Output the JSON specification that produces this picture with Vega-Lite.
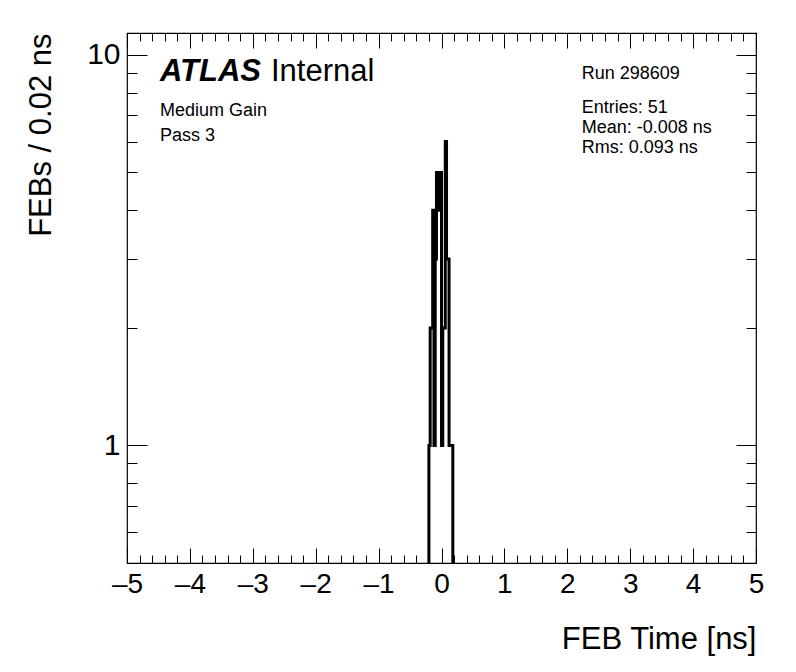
{
  "$schema": "https://vega.github.io/schema/vega-lite/v6.json",
  "width": 629,
  "height": 530,
  "autosize": {"type": "none"},
  "padding": {"left": 127, "top": 33, "right": 40, "bottom": 109},
  "background": "white",
  "config": {
    "view": {"stroke": "black", "strokeWidth": 1.2},
    "font": "Liberation Sans",
    "axis": {
      "domain": false,
      "grid": false,
      "tickColor": "black",
      "tickWidth": 1,
      "labelFont": "Liberation Sans",
      "labelFontSize": 28,
      "labelColor": "black",
      "labelOverlap": false,
      "labelFlush": false,
      "titleFont": "Liberation Sans",
      "titleFontSize": 31,
      "titleFontWeight": "normal",
      "titleColor": "black"
    }
  },
  "datasets": {
    "feb": [
      {"t": -0.22, "n": 0},
      {"t": -0.2, "n": 1},
      {"t": -0.18, "n": 2},
      {"t": -0.16, "n": 2},
      {"t": -0.14, "n": 4},
      {"t": -0.12, "n": 1},
      {"t": -0.1, "n": 3},
      {"t": -0.08, "n": 5},
      {"t": -0.06, "n": 5},
      {"t": -0.04, "n": 4},
      {"t": -0.02, "n": 5},
      {"t": 0, "n": 1},
      {"t": 0.02, "n": 2},
      {"t": 0.04, "n": 2},
      {"t": 0.06, "n": 6},
      {"t": 0.08, "n": 3},
      {"t": 0.1, "n": 3},
      {"t": 0.12, "n": 1},
      {"t": 0.14, "n": 1},
      {"t": 0.16, "n": 1},
      {"t": 0.18, "n": 0}
    ]
  },
  "resolve": {"axis": {"x": "independent", "y": "independent"}},
  "layer": [
    {
      "data": {"name": "feb"},
      "mark": {"type": "line", "interpolate": "step-after", "color": "black", "strokeWidth": 3, "clip": true, "invalid": "show", "strokeJoin": "miter", "strokeCap": "butt"},
      "encoding": {
        "x": {
          "field": "t", "type": "quantitative",
          "scale": {"domain": [-5, 5], "nice": false, "zero": false},
          "axis": {
            "orient": "bottom",
            "values": [-5,-4.8,-4.6,-4.4,-4.2,-4,-3.8,-3.6,-3.4,-3.2,-3,-2.8,-2.6,-2.4,-2.2,-2,-1.8,-1.6,-1.4,-1.2,-1,-0.8,-0.6,-0.4,-0.2,0,0.2,0.4,0.6,0.8,1,1.2,1.4,1.6,1.8,2,2.2,2.4,2.6,2.8,3,3.2,3.4,3.6,3.8,4,4.2,4.4,4.6,4.8,5],
            "tickSize": {"condition": {"test": "abs(datum.value - round(datum.value)) < 0.000001", "value": -15}, "value": -8},
            "labelExpr": "abs(datum.value - round(datum.value)) < 0.000001 ? (datum.value < 0 ? '\u2013' + abs(round(datum.value)) : '' + round(datum.value)) : ''",
            "labelPadding": 22,
            "title": "FEB Time [ns]",
            "titleX": 629,
            "titleY": 85,
            "titleAlign": "right",
            "titleBaseline": "alphabetic"
          }
        },
        "y": {
          "field": "n", "type": "quantitative",
          "scale": {"type": "log", "domain": [0.5, 11.38], "nice": false, "clamp": true},
          "axis": {
            "orient": "left",
            "values": [0.6,0.7,0.8,0.9,1,2,3,4,5,6,7,8,9,10],
            "tickSize": {"condition": {"test": "datum.value == 1 || datum.value == 10", "value": -20}, "value": -10},
            "labelExpr": "(datum.value == 1 || datum.value == 10) ? '' + datum.value : ''",
            "labelPadding": 27,
            "labelFontSize": 30,
            "title": "FEBs / 0.02 ns",
            "titleX": -77,
            "titleY": 0,
            "titleAngle": -90,
            "titleAlign": "right",
            "titleBaseline": "alphabetic"
          }
        }
      }
    },
    {
      "data": {"name": "feb"},
      "mark": {"type": "line", "interpolate": "step-after", "opacity": 0, "invalid": "show", "clip": true},
      "encoding": {
        "x": {
          "field": "t", "type": "quantitative",
          "axis": {
            "orient": "top",
            "values": [-5,-4.8,-4.6,-4.4,-4.2,-4,-3.8,-3.6,-3.4,-3.2,-3,-2.8,-2.6,-2.4,-2.2,-2,-1.8,-1.6,-1.4,-1.2,-1,-0.8,-0.6,-0.4,-0.2,0,0.2,0.4,0.6,0.8,1,1.2,1.4,1.6,1.8,2,2.2,2.4,2.6,2.8,3,3.2,3.4,3.6,3.8,4,4.2,4.4,4.6,4.8,5],
            "tickSize": {"condition": {"test": "abs(datum.value - round(datum.value)) < 0.000001", "value": -15}, "value": -8},
            "labels": false,
            "title": null
          }
        },
        "y": {
          "field": "n", "type": "quantitative",
          "axis": {
            "orient": "right",
            "values": [0.6,0.7,0.8,0.9,1,2,3,4,5,6,7,8,9,10],
            "tickSize": {"condition": {"test": "datum.value == 1 || datum.value == 10", "value": -20}, "value": -10},
            "labels": false,
            "title": null
          }
        }
      }
    },
    {
      "data": {"values": [{}]},
      "mark": {"type": "text", "font": "Liberation Sans", "fontSize": 31, "fontWeight": "bold", "fontStyle": "italic", "align": "left", "baseline": "alphabetic", "color": "black"},
      "encoding": {
        "x": {"datum": -4.475, "type": "quantitative", "axis": null},
        "y": {"datum": 8.58, "type": "quantitative", "axis": null},
        "text": {"value": "ATLAS"}
      }
    },
    {
      "data": {"values": [{}]},
      "mark": {"type": "text", "font": "Liberation Sans", "fontSize": 31, "align": "left", "baseline": "alphabetic", "color": "black"},
      "encoding": {
        "x": {"datum": -2.711, "type": "quantitative", "axis": null},
        "y": {"datum": 8.58, "type": "quantitative", "axis": null},
        "text": {"value": "Internal"}
      }
    },
    {
      "data": {"values": [{}]},
      "mark": {"type": "text", "font": "Liberation Sans", "fontSize": 18, "align": "left", "baseline": "alphabetic", "lineHeight": 25, "color": "black"},
      "encoding": {
        "x": {"datum": -4.475, "type": "quantitative", "axis": null},
        "y": {"datum": 6.98, "type": "quantitative", "axis": null},
        "text": {"value": ["Medium Gain", "Pass 3"]}
      }
    },
    {
      "data": {"values": [{}]},
      "mark": {"type": "text", "font": "Liberation Sans", "fontSize": 18, "align": "left", "baseline": "alphabetic", "color": "black"},
      "encoding": {
        "x": {"datum": 2.23, "type": "quantitative", "axis": null},
        "y": {"datum": 8.66, "type": "quantitative", "axis": null},
        "text": {"value": "Run 298609"}
      }
    },
    {
      "data": {"values": [{}]},
      "mark": {"type": "text", "font": "Liberation Sans", "fontSize": 18, "align": "left", "baseline": "alphabetic", "lineHeight": 20, "color": "black"},
      "encoding": {
        "x": {"datum": 2.23, "type": "quantitative", "axis": null},
        "y": {"datum": 7.11, "type": "quantitative", "axis": null},
        "text": {"value": ["Entries: 51", "Mean: -0.008 ns", "Rms: 0.093 ns"]}
      }
    }
  ]
}
